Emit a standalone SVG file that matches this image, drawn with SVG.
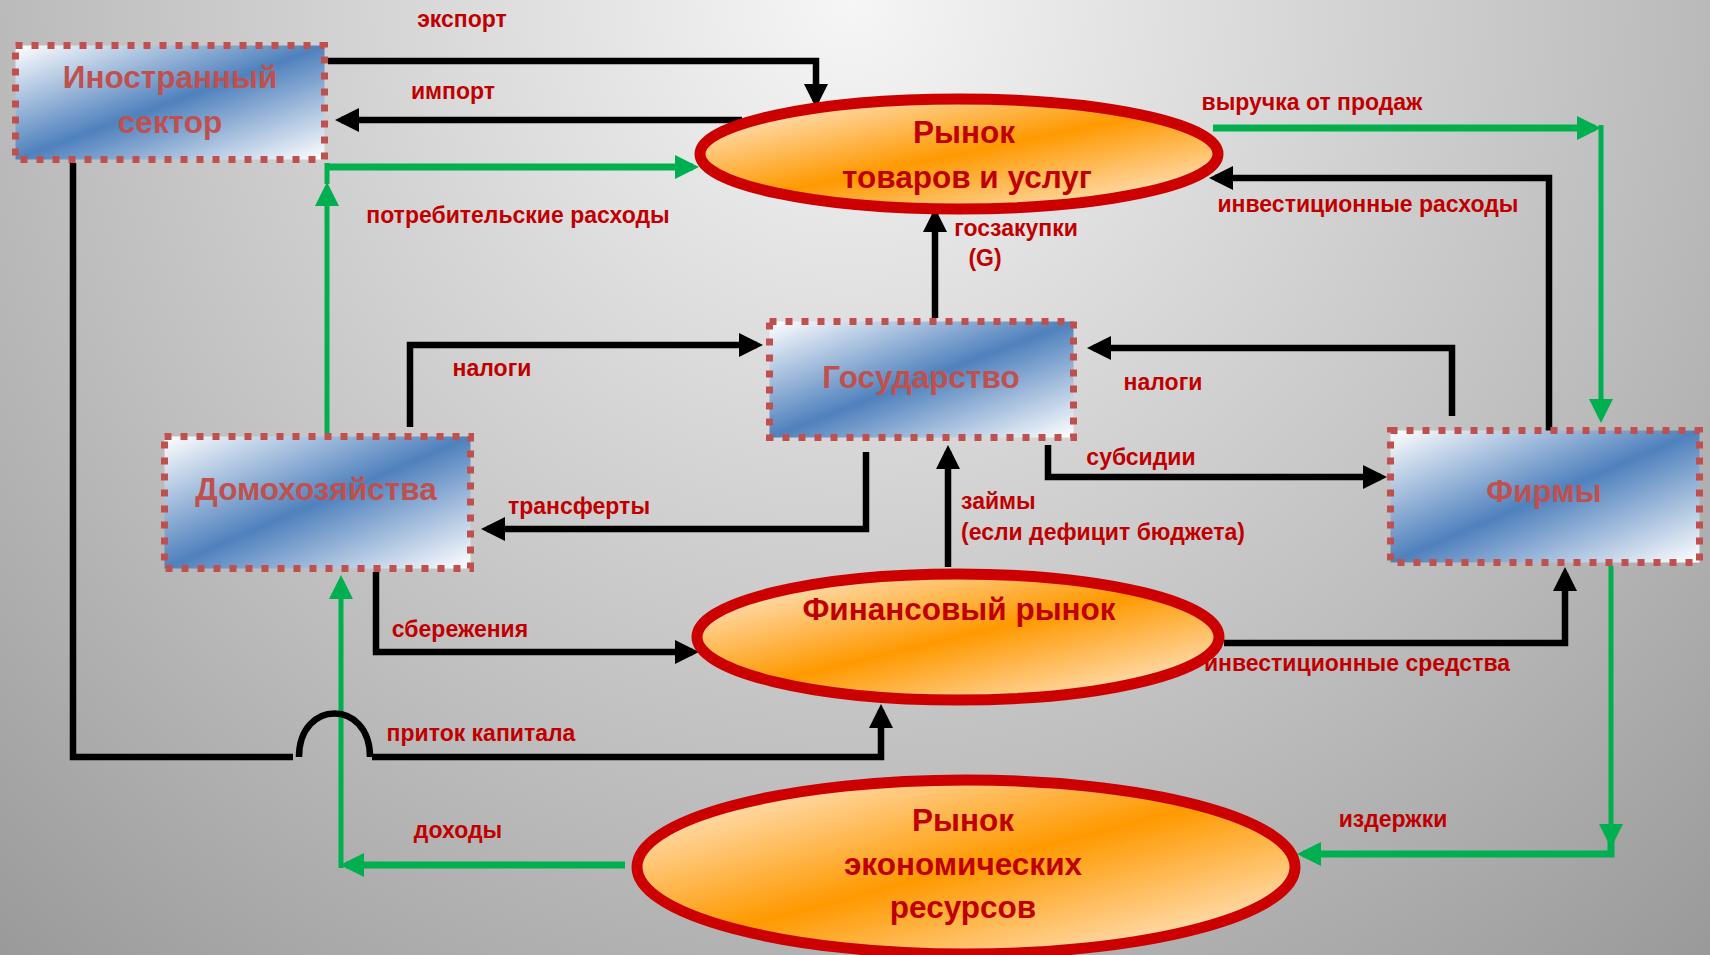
<svg xmlns="http://www.w3.org/2000/svg" width="1710" height="955" viewBox="0 0 1710 955">
<defs>
<radialGradient id="bg" gradientUnits="userSpaceOnUse" cx="850" cy="0" r="1290">
<stop offset="0" stop-color="#f6f6f6"/>
<stop offset="0.62" stop-color="#bebebe"/>
<stop offset="1" stop-color="#999999"/>
</radialGradient>
<linearGradient id="boxg" x1="0" y1="0" x2="1" y2="1">
<stop offset="0" stop-color="#ffffff"/>
<stop offset="0.5" stop-color="#4f81bd"/>
<stop offset="1" stop-color="#ffffff"/>
</linearGradient>
<linearGradient id="ellg" x1="0" y1="0" x2="1" y2="1">
<stop offset="0" stop-color="#fff4ec"/>
<stop offset="0.5" stop-color="#ff9900"/>
<stop offset="1" stop-color="#fff4ec"/>
</linearGradient>
<marker id="ab" viewBox="0 0 24 24" markerWidth="24" markerHeight="24" markerUnits="userSpaceOnUse" refX="18" refY="12" orient="auto">
<path d="M0,0 L24,12 L0,24 z" fill="#000"/>
</marker>
<marker id="ag" viewBox="0 0 24 24" markerWidth="24" markerHeight="24" markerUnits="userSpaceOnUse" refX="18" refY="12" orient="auto">
<path d="M0,0 L24,12 L0,24 z" fill="#00b050"/>
</marker>
<style>
.box{fill:url(#boxg);stroke:#c0504d;stroke-width:7;stroke-dasharray:7 9}
.ell{fill:url(#ellg);stroke:#cc0000;stroke-width:11}
.bt{font-family:"Liberation Sans",Arial,sans-serif;font-weight:bold;font-size:31.5px;fill:#c0504d;text-anchor:middle}
.et{font-family:"Liberation Sans",Arial,sans-serif;font-weight:bold;font-size:31.5px;fill:#c00000;text-anchor:middle}
.lb{font-family:"Liberation Sans",Arial,sans-serif;font-weight:bold;font-size:23px;fill:#c00000;text-anchor:middle}
.ls{text-anchor:start}
.k{fill:none;stroke:#000;stroke-width:6.5}
.g{fill:none;stroke:#00b050;stroke-width:7}
.gt{fill:none;stroke:#00b050;stroke-width:5}
</style>
</defs>
<rect width="1710" height="955" fill="url(#bg)"/>

<g id="connectors">
<path class="k" d="M328,61 H816 V102" marker-end="url(#ab)"/>
<path class="k" d="M742,120 H341" marker-end="url(#ab)"/>
<path class="gt" d="M327,433 V188" marker-end="url(#ag)"/>
<path class="gt" d="M327,184 V163"/>
<path class="g" d="M325,167 H693" marker-end="url(#ag)"/>
<path class="k" d="M410,427 V345 H757" marker-end="url(#ab)"/>
<path class="k" d="M935,318 V214" marker-end="url(#ab)"/>
<path class="k" d="M866,452 V529 H487" marker-end="url(#ab)"/>
<path class="k" d="M948,567 V451" marker-end="url(#ab)"/>
<path class="k" d="M1452,416 V348 H1093" marker-end="url(#ab)"/>
<path class="k" d="M1048,445 V477 H1381" marker-end="url(#ab)"/>
<path class="k" d="M1549,437 V178 H1215" marker-end="url(#ab)"/>
<path class="g" d="M1213,128 H1595" marker-end="url(#ag)"/>
<path class="gt" d="M1601,125 V417" marker-end="url(#ag)"/>
<path class="k" d="M1224,643 H1565 V573" marker-end="url(#ab)"/>
<path class="gt" d="M1611,566 V842" marker-end="url(#ag)"/>
<path class="g" d="M1611,838 V854 H1303" marker-end="url(#ag)"/>
<path class="g" d="M625,865 H346" marker-end="url(#ag)"/>
<path class="gt" d="M341,868 V581" marker-end="url(#ag)"/>
<path class="k" d="M376,572 V652 H693" marker-end="url(#ab)"/>
<path class="k" d="M73,163 V757 H293"/>
<path class="k" d="M299,757 C299,699 370,699 370,757"/>
<path class="k" d="M372,757 H881 V710" marker-end="url(#ab)"/>
</g>

<g id="labels">
<text class="lb" x="462" y="27">экспорт</text>
<text class="lb" x="453" y="99">импорт</text>
<text class="lb" x="518" y="223">потребительские расходы</text>
<text class="lb" x="1312" y="110">выручка от продаж</text>
<text class="lb" x="1368" y="212">инвестиционные расходы</text>
<text class="lb" x="1016" y="236">госзакупки</text>
<text class="lb" x="985" y="266">(G)</text>
<text class="lb" x="492" y="376">налоги</text>
<text class="lb" x="1163" y="390">налоги</text>
<text class="lb" x="1141" y="465">субсидии</text>
<text class="lb" x="579" y="514">трансферты</text>
<text class="lb ls" x="961" y="509">займы</text>
<text class="lb ls" x="961" y="540">(если дефицит бюджета)</text>
<text class="lb" x="460" y="637">сбережения</text>
<text class="lb" x="1357" y="671">инвестиционные средства</text>
<text class="lb" x="481" y="741">приток капитала</text>
<text class="lb" x="458" y="838">доходы</text>
<text class="lb" x="1393" y="827">издержки</text>
</g>

<g id="foreign">
<rect class="box" x="15.5" y="45.5" width="309" height="114"/>
<text class="bt" x="170" y="88">Иностранный</text>
<text class="bt" x="170" y="133">сектор</text>
</g>
<g id="government">
<rect class="box" x="769.5" y="321.5" width="304" height="116"/>
<text class="bt" x="921" y="388">Государство</text>
</g>
<g id="households">
<rect class="box" x="164.5" y="436.5" width="306" height="132"/>
<text class="bt" x="316" y="500">Домохозяйства</text>
</g>
<g id="firms">
<rect class="box" x="1390.5" y="430.5" width="309" height="132"/>
<text class="bt" x="1544" y="502">Фирмы</text>
</g>
<g id="goods-market">
<ellipse class="ell" cx="959" cy="154" rx="259" ry="55"/>
<text class="et" x="964" y="143">Рынок</text>
<text class="et" x="967" y="188">товаров и услуг</text>
</g>
<g id="financial-market">
<ellipse class="ell" cx="958" cy="637" rx="261" ry="63"/>
<text class="et" x="959" y="620">Финансовый рынок</text>
</g>
<g id="resource-market">
<ellipse class="ell" cx="966" cy="867" rx="329" ry="87"/>
<text class="et" x="963" y="831">Рынок</text>
<text class="et" x="963" y="875">экономических</text>
<text class="et" x="963" y="918">ресурсов</text>
</g>
</svg>
